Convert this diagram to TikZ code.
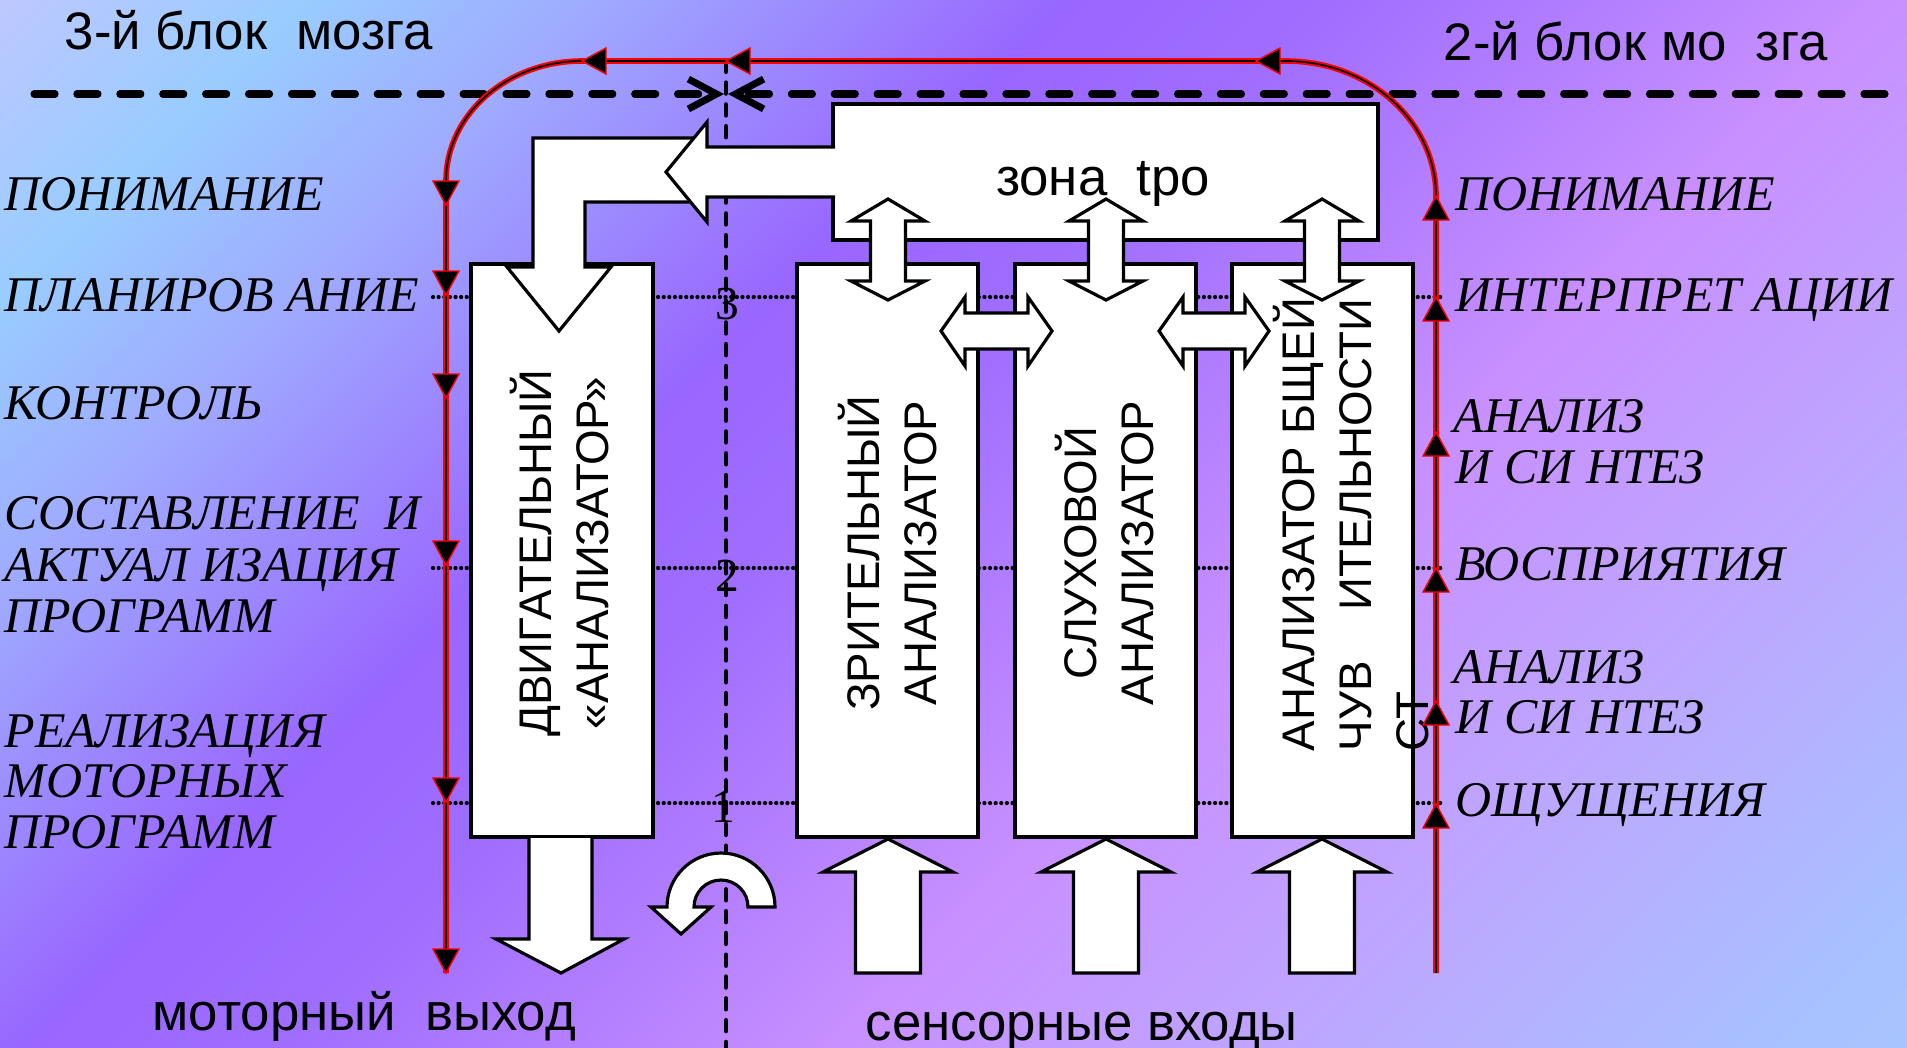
\documentclass[tikz,border=0pt]{standalone}
\usepackage{fontspec}
\setmainfont{Liberation Serif}
\setsansfont{Liberation Sans}
\usepackage{tikz}
\usetikzlibrary{arrows.meta}

% background colours, top-left to bottom-right
\definecolor{bgA}{HTML}{BCC8FF}
\definecolor{bgB}{HTML}{99CCFF}
\definecolor{bgC}{HTML}{9FAAFF}
\definecolor{bgD}{HTML}{9966FF}
\definecolor{bgE}{HTML}{9F6EFF}
\definecolor{bgF}{HTML}{C890FF}
\definecolor{bgG}{HTML}{BCA8FF}
\definecolor{bgH}{HTML}{A8C0FF}
\definecolor{bgI}{HTML}{A8C4FF}
\pgfdeclarehorizontalshading{brainbg}{100bp}{%
  color(0bp)=(bgA); color(14.64bp)=(bgA);
  color(20.1bp)=(bgB); color(25.6bp)=(bgC);
  color(34.4bp)=(bgD); color(39.3bp)=(bgE);
  color(49.7bp)=(bgF); color(58.5bp)=(bgG);
  color(66.7bp)=(bgH); color(69.4bp)=(bgI); color(100bp)=(bgI)}

\begin{document}
\begin{tikzpicture}[x=0.01cm, y=-0.01cm,
    box/.style={draw=black, line width=1pt, fill=white},
    blockarrow/.style={draw=black, line width=0.9pt, fill=white, line join=miter},
    levelline/.style={line width=1.2pt, dash pattern=on 0pt off 1.6pt, line cap=round},
    blockline/.style={line width=2pt, dash pattern=on 6pt off 6.2pt, line cap=round},
    midline/.style={line width=1.4pt, dash pattern=on 3pt off 3.2pt, line cap=round},
    redflow/.style={draw=red, line width=1.6pt, postaction={draw=black, line width=0.5pt}},
    redtip/.style={draw=red, fill=black, line width=0.4pt, line join=miter},
    stage/.style={font=\fontsize{14.2}{17}\selectfont\itshape, anchor=base west, inner sep=0pt},
    boxtext/.style={font=\fontsize{13}{16.2}\sffamily, rotate=90, align=center, inner sep=0pt},
    headtxt/.style={font=\fontsize{15}{18}\sffamily, anchor=base west, inner sep=0pt},
    levelnum/.style={font=\fontsize{13.5}{16}\selectfont, inner sep=0pt}
]

    % Background
    \begin{scope}
        \clip (0,0) rectangle (1907,1047);
        \shade[shading=brainbg, shading angle=-45] (0,0) rectangle (1907,1907);
    \end{scope}

    % Block titles
    \node[headtxt] (blk3) at (64,49) {3-й блок\ \ мозга};
    \node[headtxt] (blk2) at (1443,60) {2-й блок мо\ \ зга};

    % Levels 1-3
    \draw[levelline] (433,297) -- (1445,297);
    \draw[levelline] (433,568) -- (1445,568);
    \draw[levelline] (433,803) -- (1445,803);

    % Border between the blocks
    \draw[blockline, -{Straight Barb[length=8pt, width=8.5pt]}] (34,94) -- (724,94);
    \draw[blockline, -{Straight Barb[length=8pt, width=8.5pt]}] (1885,94) -- (728,94);
    \draw[midline] (726,61) -- (726,1047);
    \node[levelnum] (lv3) at (727,304) {3};
    \node[levelnum] (lv2) at (727,576) {2};
    \node[levelnum] (lv1) at (723,807) {1};

    % Analysers
    \draw[box] (471,264) rectangle (653,837);
    \draw[box] (797,264) rectangle (978,837);
    \draw[box] (1015,264) rectangle (1196,837);
    \draw[box] (1232,264) rectangle (1413,837);
    \draw[box] (833,104) rectangle (1378,240);
    \node[headtxt, anchor=base] (tpo) at (1103,195) {зона\ \ tpo};

    % Links zone -- analysers
    \draw[blockarrow] (888,199) -- (925,221) -- (905.5,221) -- (905.5,281) -- (925,281) -- (888,300)
        -- (851,281) -- (870.5,281) -- (870.5,221) -- (851,221) -- cycle;
    \draw[blockarrow] (1106,199) -- (1143,221) -- (1123.5,221) -- (1123.5,281) -- (1143,281) -- (1106,300)
        -- (1069,281) -- (1088.5,281) -- (1088.5,221) -- (1069,221) -- cycle;
    \draw[blockarrow] (1322,199) -- (1359,221) -- (1339.5,221) -- (1339.5,281) -- (1359,281) -- (1322,300)
        -- (1285,281) -- (1304.5,281) -- (1304.5,221) -- (1285,221) -- cycle;
    \draw[blockarrow] (941,331) -- (965,297) -- (965,313) -- (1028,313) -- (1028,297) -- (1052,331)
        -- (1028,366) -- (1028,349) -- (965,349) -- (965,366) -- cycle;
    \draw[blockarrow] (1159,331) -- (1183,297) -- (1183,313) -- (1245,313) -- (1245,297) -- (1269,331)
        -- (1245,366) -- (1245,349) -- (1183,349) -- (1183,366) -- cycle;

    % Zone -- motor analyser
    \draw[blockarrow] (700,138) -- (533,138) -- (533,267) -- (507,267) -- (559,331) -- (611,267)
        -- (585,267) -- (585,202) -- (700,202) -- cycle;
    \draw[blockarrow] (835,147) -- (707,147) -- (707,122) -- (666,172) -- (707,222) -- (707,197) -- (835,197);

    % Inputs and output
    \draw[blockarrow] (529,838) -- (529,939) -- (496,939) -- (561,973) -- (624,939) -- (592,939) -- (592,838);
    \draw[blockarrow] (855.5,973) -- (855.5,872) -- (823,872) -- (888,839) -- (953,872) -- (920.5,872) -- (920.5,973) -- cycle;
    \draw[blockarrow] (1073.5,973) -- (1073.5,872) -- (1041,872) -- (1106,839) -- (1171,872) -- (1138.5,872) -- (1138.5,973) -- cycle;
    \draw[blockarrow] (1289.5,973) -- (1289.5,872) -- (1257,872) -- (1322,839) -- (1387,872) -- (1354.5,872) -- (1354.5,973) -- cycle;
    \draw[blockarrow] (775,907) arc[start angle=0, end angle=-180, radius=54] -- (651,907) -- (681,934)
        -- (711,907) -- (694,907) arc[start angle=180, end angle=360, radius=27] -- cycle;

    % Analyser names
    \node[boxtext] (motor) at (560,553) {ДВИГАТЕЛЬНЫЙ\\«АНАЛИЗАТОР»};
    \node[boxtext] (visual) at (888,553) {ЗРИТЕЛЬНЫЙ\\АНАЛИЗАТОР};
    \node[boxtext] (audio) at (1105,553) {СЛУХОВОЙ\\АНАЛИЗАТОР};
    \node[boxtext, align=left, anchor=west] (touch) at (1351,752) {АНАЛИЗАТОР БЩЕЙ\\ЧУВ\ \ \ \ ИТЕЛЬНОСТИ\\СТ};

    % Flow: up through the 2nd block, over, down through the 3rd
    \draw[redflow] (1436,973) -- (1436,196)
        arc[start angle=0, end angle=-90, x radius=150, y radius=135] -- (582,61)
        arc[start angle=-90, end angle=-180, x radius=136, y radius=120] -- (446,973);

    % Arrow heads, 2nd block
    \draw[redtip] (1423,828) -- (1449,828) -- (1436,804) -- cycle;
    \draw[redtip] (1423,725) -- (1449,725) -- (1436,701) -- cycle;
    \draw[redtip] (1423,592) -- (1449,592) -- (1436,568) -- cycle;
    \draw[redtip] (1423,456) -- (1449,456) -- (1436,432) -- cycle;
    \draw[redtip] (1423,321) -- (1449,321) -- (1436,297) -- cycle;
    \draw[redtip] (1423,220) -- (1449,220) -- (1436,196) -- cycle;

    % Arrow heads, top
    \draw[redtip] (1280,48) -- (1280,74) -- (1256,61) -- cycle;
    \draw[redtip] (750,48) -- (750,74) -- (726,61) -- cycle;
    \draw[redtip] (606,48) -- (606,74) -- (582,61) -- cycle;

    % Arrow heads, 3rd block
    \draw[redtip] (433,181) -- (459,181) -- (446,205) -- cycle;
    \draw[redtip] (433,271) -- (459,271) -- (446,295) -- cycle;
    \draw[redtip] (433,374) -- (459,374) -- (446,398) -- cycle;
    \draw[redtip] (433,541) -- (459,541) -- (446,565) -- cycle;
    \draw[redtip] (433,778) -- (459,778) -- (446,802) -- cycle;
    \draw[redtip] (433,949) -- (459,949) -- (446,973) -- cycle;

    % Stages, 3rd block
    \node[stage] (s31) at (4,210) {ПОНИМАНИЕ};
    \node[stage] (s32) at (4,311) {ПЛАНИРОВ АНИЕ};
    \node[stage] (s33) at (4,419) {КОНТРОЛЬ};
    \node[stage] (s34) at (4,529) {СОСТАВЛЕНИЕ\ \ И};
    \node[stage] (s35) at (4,581) {АКТУАЛ ИЗАЦИЯ};
    \node[stage] (s36) at (4,632) {ПРОГРАММ};
    \node[stage] (s37) at (4,747) {РЕАЛИЗАЦИЯ};
    \node[stage] (s38) at (4,797) {МОТОРНЫХ};
    \node[stage] (s39) at (4,848) {ПРОГРАММ};

    % Stages, 2nd block
    \node[stage] (s21) at (1455,210) {ПОНИМАНИЕ};
    \node[stage] (s22) at (1455,311) {ИНТЕРПРЕТ АЦИИ};
    \node[stage] (s23) at (1453,432) {АНАЛИЗ};
    \node[stage] (s24) at (1455,483) {И СИ НТЕЗ};
    \node[stage] (s25) at (1455,580) {ВОСПРИЯТИЯ};
    \node[stage] (s26) at (1453,683) {АНАЛИЗ};
    \node[stage] (s27) at (1455,733) {И СИ НТЕЗ};
    \node[stage] (s28) at (1455,816) {ОЩУЩЕНИЯ};

    % Output and inputs
    \node[headtxt] (out) at (152,1030) {моторный\ \ выход};
    \node[headtxt] (in) at (865,1040) {сенсорные входы};

    \pgfresetboundingbox
    \useasboundingbox (0,0) rectangle (1907,1047);
\end{tikzpicture}
\end{document}
